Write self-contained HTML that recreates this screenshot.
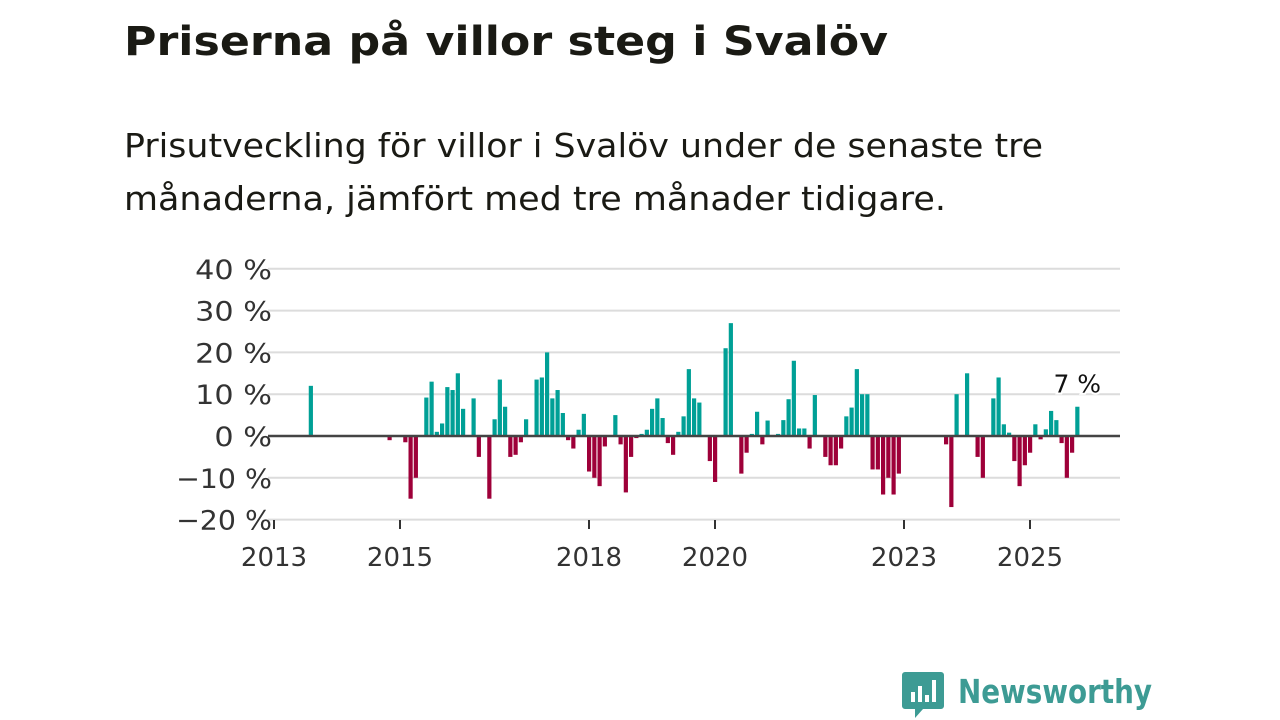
<!DOCTYPE html>
<html><head><meta charset="utf-8">
<style>
html,body{margin:0;padding:0;background:#fff;}
svg{display:block;font-family:"DejaVu Sans","Liberation Sans",sans-serif;}
</style></head>
<body>
<svg id="chart" width="1280" height="720" viewBox="0 0 1280 720">
  <text x="124" y="55" font-size="40" font-weight="bold" fill="#1a1a14" textLength="764" lengthAdjust="spacingAndGlyphs">Priserna på villor steg i Svalöv</text>
  <text x="124" y="157" font-size="33" fill="#1a1a14" textLength="919" lengthAdjust="spacingAndGlyphs">Prisutveckling för villor i Svalöv under de senaste tre</text>
  <text x="124" y="210" font-size="33" fill="#1a1a14" textLength="822" lengthAdjust="spacingAndGlyphs">månaderna, jämfört med tre månader tidigare.</text>
  <g id="grid"></g>
  <g id="bars"></g>
  <g id="axes"></g>
  <g>
    <path d="M905 672 h36 a3 3 0 0 1 3 3 v31 a3 3 0 0 1 -3 3 h-18 l-8 9 v-9 h-10 a3 3 0 0 1 -3 -3 v-31 a3 3 0 0 1 3 -3z" fill="#3d9b94"/>
    <rect x="911" y="692" width="4" height="10" fill="#fff"/>
    <rect x="918" y="686" width="4" height="16" fill="#fff"/>
    <rect x="925" y="695" width="4" height="7" fill="#fff"/>
    <rect x="932" y="680" width="4" height="22" fill="#fff"/>
    <text x="958" y="703" font-size="33" font-weight="bold" fill="#3d9b94" textLength="194" lengthAdjust="spacingAndGlyphs">Newsworthy</text>
  </g>
</svg>
<script>
// month index from Jan 2013
const monthIdx = [7,22,25,26,27,29,30,31,32,33,34,35,36,38,39,41,42,43,44,45,46,47,48,50,51,52,53,54,55,56,57,58,59,60,61,62,63,65,66,67,68,69,70,71,72,73,74,75,76,77,78,79,80,81,83,84,86,87,89,90,91,92,93,94,96,97,98,99,100,101,102,103,105,106,107,108,109,110,111,112,113,114,115,116,117,118,119,128,129,130,132,134,135,137,138,139,140,141,142,143,144,145,146,147,148,149,150,151,152,153];
const values = [12,-1,-1.5,-15,-10,9.2,13,1,3,11.7,11,15,6.5,9,-5,-15,4,13.5,7,-5,-4.5,-1.5,4,13.5,14,20,9,11,5.5,-1,-3,1.5,5.3,-8.5,-10,-12,-2.5,5,-2,-13.5,-5,-0.5,0.5,1.5,6.5,9,4.3,-1.7,-4.5,1,4.7,16,9,8,-6,-11,21,27,-9,-4,0.5,5.8,-2,3.7,0.5,3.8,8.8,18,1.8,1.8,-3,9.8,-5,-7,-7,-3,4.7,6.8,16,10,10,-8,-8,-14,-10,-14,-9,-2,-17,10,15,-5,-10,9,14,2.8,0.8,-6,-12,-7,-4,2.8,-0.8,1.6,6,3.8,-1.7,-10,-4,7];
const yTicks = [40,30,20,10,0,-10,-20];
const yTickLabels = ["40 %","30 %","20 %","10 %","0 %","−10 %","−20 %"];
const xTickYears = [2013,2015,2018,2020,2023,2025];
const lastLabel = "7 %";

const NS="http://www.w3.org/2000/svg";
const y = v => 436 - v*4.18;
const x = m => 274 + m*5.25;
const yr = t => x((t-2013)*12);
function mk(tag, attrs, parent){const e=document.createElementNS(NS,tag);for(const k in attrs)e.setAttribute(k,attrs[k]);parent.appendChild(e);return e;}
const grid=document.getElementById('grid'), bars=document.getElementById('bars'), axes=document.getElementById('axes');
yTicks.forEach((t,i)=>{
  if(t!==0){
    const l=mk('line',{x1:268,x2:1120,y1:y(t),y2:y(t),stroke:'#dcdcdc','stroke-width':2},grid);
    
    
  }
  const lbl=yTickLabels[i];
  const w = lbl.length*19.2;
  const tx=mk('text',{x:272-w,y:y(t)+10,'font-size':27,fill:'#333',textLength:w,lengthAdjust:'spacingAndGlyphs'},axes);
  tx.textContent=lbl;
  
  
});
monthIdx.forEach((m,i)=>{
  const v=values[i];
  const r=mk('rect',{x:x(m)-2,y:Math.min(y(v),y(0)),width:4.2,height:Math.abs(y(v)-y(0)),fill:v>=0?'#00a096':'#9e0039'},bars);
  
  
});
const zl=mk('line',{x1:268,x2:1120,y1:y(0),y2:y(0),stroke:'#444','stroke-width':2.5},axes);


xTickYears.forEach(t=>{
  const tk=mk('line',{x1:yr(t),x2:yr(t),y1:520,y2:529,stroke:'#333','stroke-width':2},axes);
  
  
  const tx=mk('text',{x:yr(t),y:566,'font-size':26,fill:'#333','text-anchor':'middle'},axes);
  tx.textContent=t;
  
  
});
const lm=monthIdx[monthIdx.length-1], lv=values[values.length-1];
const lab=mk('text',{x:x(lm),y:y(lv)-14,'font-size':25,fill:'#111','text-anchor':'middle',stroke:'#fff','stroke-width':4,'paint-order':'stroke'},axes);
lab.textContent=lastLabel;


</script>
</body></html>
